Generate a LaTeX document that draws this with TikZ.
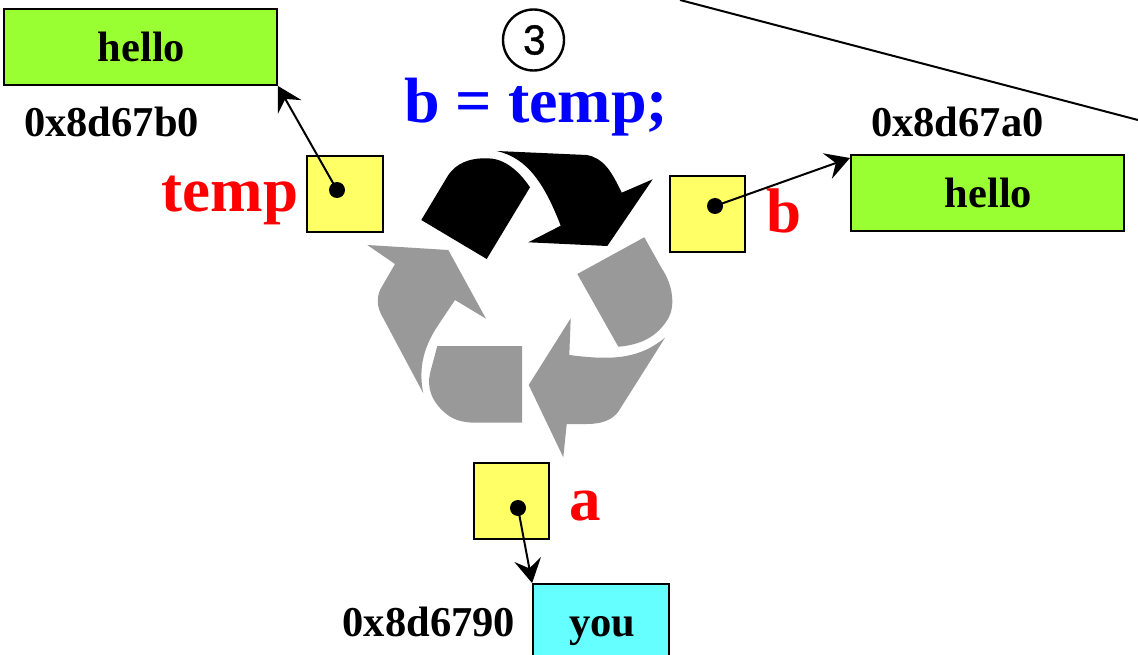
\documentclass[tikz,border=0pt]{standalone}
\usepackage{fontspec}
\setmainfont{Liberation Serif}
\newfontfamily\roundfont[FakeBold=1]{Poppins}
\usetikzlibrary{arrows.meta}
\definecolor{slotyellow}{HTML}{FFFF66}
\definecolor{hellogreen}{HTML}{99FF33}
\definecolor{youcyan}{HTML}{66FFFF}
\definecolor{recyclegrey}{HTML}{999999}
\tikzset{
string/.style={draw, line width=1.8pt, minimum height=76pt, inner sep=0pt, font=\fontsize{42.5}{42}\bfseries\selectfont},
slot/.style={draw, fill=slotyellow, line width=1.8pt, minimum width=75.5pt, minimum height=76pt, inner sep=0pt},
dot/.style={circle, fill=black, minimum size=16pt, inner sep=0pt},
addr/.style={anchor=base west, inner sep=0pt, font=\fontsize{42.5}{42}\bfseries\selectfont},
varname/.style={anchor=base west, inner sep=0pt, text=red, font=\fontsize{63}{62}\bfseries\selectfont},
pointer/.style={line width=2pt, -{Stealth[length=24pt, width=27pt, inset=9pt]}, shorten <=-3pt}
}
\begin{document}
\begin{tikzpicture}[x=1pt, y=-1pt]
\useasboundingbox (0,0) rectangle (1138,655);

\fill[black] (421.3,220) -- (486.7,259) -- (530,187.3) .. controls (517,168) and (502,158) .. (486.7,158.3)
  .. controls (468,158) and (456,164) .. (448.3,175) -- cycle;
\fill[black] (496.7,151) -- (586.7,155) .. controls (603,158) and (611,170) .. (621.7,192.7) -- (652.7,179.3)
  -- (607.3,246) -- (528.3,242.3) -- (560.7,225.7) .. controls (545,185) and (528,158) .. (496.7,151) -- cycle;

\fill[recyclegrey] (367.3,245) -- (448.3,250) -- (486,318.7) -- (455,300) -- (438.3,325)
  .. controls (424,346) and (418,368) .. (423.3,393.3) -- (383.3,318.3)
  .. controls (376,306) and (377,298) .. (380,290) -- (395,264) -- cycle;
\fill[recyclegrey] (437.3,346) -- (522,346) -- (522,422.7) -- (478.3,422.7)
  .. controls (463,423) and (452,420) .. (443,411) .. controls (431,400) and (427,387) .. (430,373.3) -- cycle;
\fill[recyclegrey] (665,337.7) -- (618.3,411.7) .. controls (612,420) and (602,424) .. (586.7,424)
  -- (566.7,424) -- (563.3,457.3) -- (528.7,385) -- (570.7,318.3) -- (569.3,355)
  .. controls (615,361) and (640,358) .. (665,337.7) -- cycle;
\fill[recyclegrey] (644.3,237.3) -- (661.7,268.3) .. controls (673,285) and (675,305) .. (669,317)
  .. controls (658,337) and (640,345) .. (618.3,346.7) -- (577.3,274) -- cycle;

\node[draw, circle, line width=2.4pt, minimum size=61pt, inner sep=0pt, font=\fontsize{40}{40}\roundfont\selectfont] (step3) at (533.5,40) {\hspace{2pt}3};
\node[addr, text=blue, font=\fontsize{64}{64}\bfseries\selectfont] (code) at (404,123) {b = temp;};

\node[string, fill=hellogreen, minimum width=273pt] (hello1) at (140.5,47) {\hspace{2pt}\raisebox{-2pt}{hello}};
\node[string, fill=hellogreen, minimum width=273pt] (hello2) at (987.5,193) {\hspace{2pt}\raisebox{-2pt}{hello}};
\node[string, fill=youcyan, minimum width=136pt, minimum height=94pt] (you) at (601,631) {\hspace{3pt}you};

\node[addr] (addr1) at (24,137) {0x8d67b0};
\node[addr] (addr2) at (871,137) {0x8d67a0};
\node[addr] (addr3) at (342.5,636) {0x8d6790};

\node[slot] (tempslot) at (345,194) {};
\node[slot] (bslot) at (707.5,214) {};
\node[slot] (aslot) at (511.5,501) {};
\node[varname] (templabel) at (161.5,212) {temp};
\node[varname] (blabel) at (766,233) {b};
\node[varname] (alabel) at (569.5,520) {a};

\node[dot] (tempdot) at (337,190) {};
\node[dot] (bdot) at (715,206) {};
\node[dot] (adot) at (518,508) {};

\coordinate (btip) at (850,158);
\draw[pointer] (tempdot.center) -- (hello1.south east);
\draw[pointer] (bdot.center) -- (btip);
\draw[pointer] (adot.center) -- (you.north west);

\coordinate (linestart) at (680,0);
\coordinate (lineend) at (1138,120);
\draw[line width=2pt] (linestart) -- (lineend);
\end{tikzpicture}
\end{document}
